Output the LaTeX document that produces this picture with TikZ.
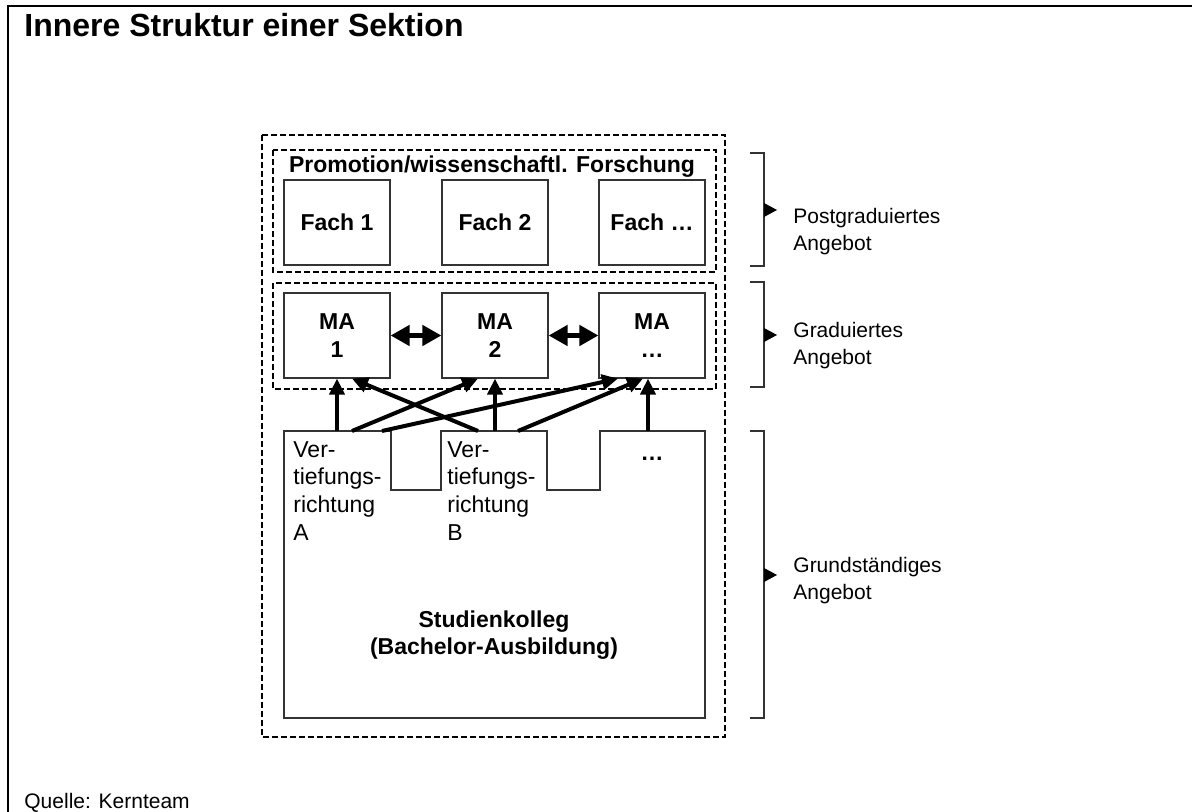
\documentclass[tikz,border=0pt]{standalone}
\usepackage{fontspec}
\setmainfont{Liberation Sans}
\usetikzlibrary{arrows.meta}

\newcommand\boxfont{\fontsize{11.5pt}{13.8pt}\selectfont}
\newcommand\sidefont{\fontsize{10.5pt}{13.2pt}\selectfont}
\newcommand\headfont{\fontsize{16pt}{19pt}\selectfont}

\begin{document}
\begin{tikzpicture}[x=0.5pt,y=-0.5pt,
  outerframe/.style={line width=1pt},
  zone/.style={draw, line width=1pt, dash pattern=on 3pt off 1.5pt},
  cellbox/.style={draw=black!80, line width=0.6pt, fill=white,
    minimum width=53pt, minimum height=42.5pt, inner sep=0pt,
    align=center, font=\boxfont\bfseries},
  outline/.style={draw=black!80, line width=0.6pt},
  uparrow/.style={line width=2pt, -{Triangle[length=8pt,width=7.5pt]}},
  pairarrow/.style={line width=2.3pt,
    {Triangle[length=9.5pt,width=10pt]}-{Triangle[length=9.5pt,width=10pt]}},
  brace/.style={draw=black!80, line width=0.6pt},
  bracetip/.style={fill=black},
  sidetext/.style={anchor=north west, inner sep=0pt, align=left, font=\sidefont},
  coltext/.style={anchor=north west, inner sep=0pt, align=left, font=\boxfont}
]
\useasboundingbox (0,0) rectangle (1192,812);

% page frame and heading
\draw[outerframe] (8,812) -- (8,6) -- (1192,6);
\node[anchor=base west, inner sep=0pt, font=\headfont\bfseries] (title) at (24,37)
  {Innere Struktur einer Sektion};

% dashed zones
\draw[zone] (262,135) rectangle (725,737);
\draw[zone] (273,150) rectangle (716,272);
\draw[zone] (273,283) rectangle (716,389);

% postgraduate level
\node[anchor=base, inner sep=0pt, font=\boxfont\bfseries] (prom) at (492,173)
  {Promotion/wissenschaftl. Forschung};
\node[cellbox] (f1) at (337,222.5) {Fach 1};
\node[cellbox] (f2) at (495,222.5) {Fach 2};
\node[cellbox] (f3) at (652,222.5) {Fach \dots};

% graduate level
\node[cellbox] (ma1) at (337,335.5) {MA\\1};
\node[cellbox] (ma2) at (495,335.5) {MA\\2};
\node[cellbox] (ma3) at (652,335.5) {MA\\\dots};
\draw[pairarrow] (ma1.east) -- (ma2.west);
\draw[pairarrow] (ma2.east) -- (ma3.west);

% undergraduate block with its specialisations
\draw[outline] (284,431) -- (391,431) -- (391,490) -- (441,490) -- (441,431)
  -- (547,431) -- (547,490) -- (600,490) -- (600,431) -- (705,431)
  -- (705,718) -- (284,718) -- cycle;
\node[coltext] (va) at (293,441) {Ver-\\tiefungs-\\richtung\\A};
\node[coltext] (vb) at (447,441) {Ver-\\tiefungs-\\richtung\\B};
\node[anchor=base, inner sep=0pt, font=\boxfont\bfseries] (vc) at (652,460) {\dots};
\node[align=center, inner sep=0pt, font=\boxfont\bfseries] (bach) at (494,635)
  {Studienkolleg\\(Bachelor-Ausbildung)};

% arrow start points on the top edges
\coordinate (a1) at (337,431);
\coordinate (a2) at (352,431);
\coordinate (a3) at (382,431);
\coordinate (b1) at (478,431);
\coordinate (b2) at (495,431);
\coordinate (b3) at (518,431);
\coordinate (c1) at (648,431);

\draw[uparrow] (a1) -- (ma1.south);
\draw[uparrow] (a2) -- ([xshift=-8.5pt]ma2.south);
\draw[uparrow] (a3) -- ([xshift=-17pt]ma3.south);
\draw[uparrow] (b1) -- ([xshift=7.5pt]ma1.south);
\draw[uparrow] (b2) -- (ma2.south);
\draw[uparrow] (b3) -- ([xshift=-4.5pt]ma3.south);
\draw[uparrow] (c1) -- ([xshift=-2pt]ma3.south);

% level brackets
\draw[brace] (750,153) -- (764,153) -- (764,266) -- (750,266);
\fill[bracetip] (764,203) -- (777,210) -- (764,217) -- cycle;
\node[sidetext] (lpost) at (793,208) {Postgraduiertes\\Angebot};

\draw[brace] (750,282) -- (764,282) -- (764,387) -- (750,387);
\fill[bracetip] (764,328) -- (777,335) -- (764,342) -- cycle;
\node[sidetext] (lgrad) at (793,322) {Graduiertes\\Angebot};

\draw[brace] (750,431) -- (764,431) -- (764,718) -- (750,718);
\fill[bracetip] (764,568) -- (777,575) -- (764,582) -- cycle;
\node[sidetext] (lgrund) at (793,557) {Grundständiges\\Angebot};

% source line
\node[anchor=base west, inner sep=0pt, font=\sidefont] (src) at (24,808)
  {Quelle: Kernteam};
\end{tikzpicture}
\end{document}
